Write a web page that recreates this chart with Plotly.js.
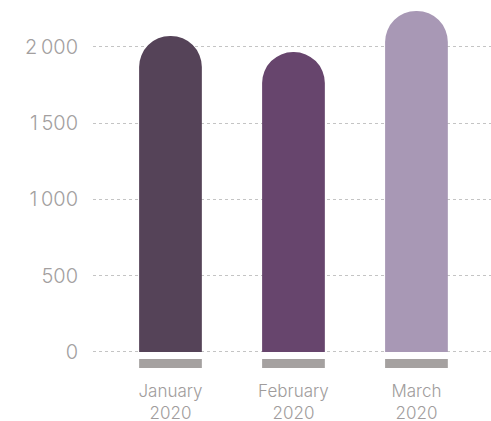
<!DOCTYPE html>
<html>
<head>
<meta charset="utf-8">
<script src="https://cdn.plot.ly/plotly-3.0.1.min.js"></script>
<style>html,body{margin:0;padding:0;background:#fff;}#chart{width:491px;height:421px;}</style>
</head>
<body>
<div id="chart"></div>
<script>
const categories = ["January<br>2020", "February<br>2020", "March<br>2020"];
const values = [2072, 1967, 2236];
const barColors = ["#554358", "#67456d", "#a898b5"];
const tickValues = [0, 500, 1000, 1500, 2000];
const tickLabels = ["0", "500", "1\u2009000", "1\u2009500", "2\u2009000"];

const mainBars = {
  type: "bar",
  x: categories,
  y: values,
  width: 0.51,
  marker: {color: barColors, cornerradius: "50%"},
  hoverinfo: "none"
};
const baseBars = {
  type: "bar",
  x: categories,
  y: categories.map(() => -59),
  base: categories.map(() => -46),
  width: 0.51,
  marker: {color: "#a5a1a0", cornerradius: 0},
  hoverinfo: "none"
};

const layout = {
  width: 491, height: 421,
  margin: {l: 93, r: 0, t: 2, b: 50},
  paper_bgcolor: "#fff", plot_bgcolor: "#fff",
  showlegend: false,
  barmode: "overlay",
  font: {family: "Inter, 'Open Sans', sans-serif", color: "#a39f9f"},
  xaxis: {
    type: "category",
    range: [-0.63, 2.606],
    showgrid: false, zeroline: false, showline: false,
    ticks: "", ticklabelstandoff: 8,
    tickfont: {size: 17, color: "#a09c9c", weight: 300}
  },
  yaxis: {
    range: [-124.7, 2295],
    tickvals: tickValues, ticktext: tickLabels,
    showgrid: true, gridcolor: "#c4c4c4", griddash: "dot", gridwidth: 1,
    zeroline: false, showline: false, ticks: "",
    ticklabelstandoff: 14,
    tickfont: {size: 20, color: "#a39f9f", weight: 300}
  }
};
Plotly.newPlot("chart", [mainBars, baseBars], layout, {displayModeBar: false, staticPlot: true});
</script>
</body>
</html>
